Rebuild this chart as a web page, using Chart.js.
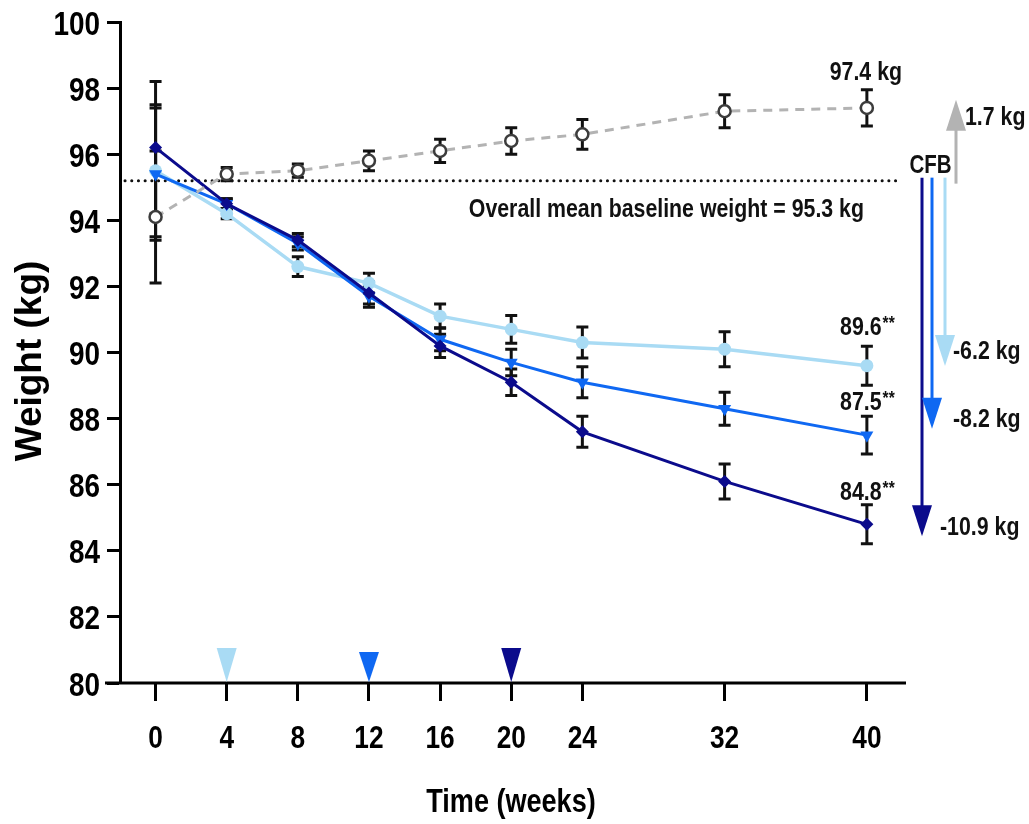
<!DOCTYPE html>
<html>
<head>
<meta charset="utf-8">
<script src="https://cdn.jsdelivr.net/npm/chart.js@4.4.1/dist/chart.umd.min.js"></script>
<style>
  html, body { margin: 0; padding: 0; background: #fff; }
  #wrap { width: 1029px; height: 824px; }
</style>
</head>
<body>
<div id="wrap"><canvas id="weightChart" width="1029" height="824"></canvas></div>
<script>
// weeks on the x axis
const weeks = [0, 4, 8, 12, 16, 20, 24, 32, 40];
const yTicks = [80, 82, 84, 86, 88, 90, 92, 94, 96, 98, 100];

// mean weight (kg) per group
const placebo  = [94.1, 95.4, 95.5, 95.8, 96.1, 96.4, 96.6, 97.3, 97.4];
const doseLow  = [95.5, 94.2, 92.6, 92.1, 91.1, 90.7, 90.3, 90.1, 89.6];
const doseMid  = [95.4, 94.5, 93.3, 91.7, 90.4, 89.7, 89.1, 88.3, 87.5];
const doseHigh = [96.2, 94.5, 93.4, 91.8, 90.2, 89.1, 87.6, 86.1, 84.8];

// standard errors
const placeboSE  = [2.0, 0.2, 0.2, 0.3, 0.35, 0.4, 0.45, 0.5, 0.55];
const doseLowSE  = [2.0, 0.15, 0.3, 0.3, 0.37, 0.42, 0.47, 0.53, 0.59];
const doseMidSE  = [2.0, 0.15, 0.2, 0.33, 0.35, 0.4, 0.47, 0.5, 0.57];
const doseHighSE = [2.0, 0.15, 0.2, 0.33, 0.35, 0.4, 0.47, 0.53, 0.59];

// week each dose group reached its target dose
const doseWeeks = [4, 12, 20];

const baseline = 95.2;
const baselineLabel = 'Overall mean baseline weight = 95.3 kg';
const endLabels = ['97.4 kg', '89.6', '87.5', '84.8'];
const cfbLabels = ['1.7 kg', '-6.2 kg', '-8.2 kg', '-10.9 kg'];

const FONT = "'Liberation Sans', Arial, sans-serif";
const SQUEEZE = 0.82; // Arial Narrow look

const cDark = '#0b0b8c';
const cMid = '#0f68f2';
const cLight = '#a9dbf4';
const cGrey = '#b3b3b3';

const toPts = arr => arr.map((v, i) => ({ x: weeks[i], y: v }));

// bold text squeezed horizontally
function narrow(ctx, txt, x, y, size, align) {
    ctx.save();
    ctx.font = 'bold ' + size + 'px ' + FONT;
    ctx.textAlign = align || 'center';
    ctx.textBaseline = 'alphabetic';
    ctx.translate(x, y);
    ctx.scale(SQUEEZE, 1);
    ctx.fillText(txt, 0, 0);
    ctx.restore();
}
function narrowWidth(ctx, txt, size) {
    ctx.save();
    ctx.font = 'bold ' + size + 'px ' + FONT;
    const w = ctx.measureText(txt).width * SQUEEZE;
    ctx.restore();
    return w;
}

const annot = {
    id: 'annot',
    beforeDatasetsDraw(chart) {
        const ctx = chart.ctx;
        const xs = chart.scales.x, ys = chart.scales.y;
        const area = chart.chartArea;

        // dotted baseline
        ctx.save();
        ctx.strokeStyle = '#111';
        ctx.lineWidth = 3;
        ctx.lineCap = 'round';
        ctx.setLineDash([0.1, 6.6]);
        ctx.beginPath();
        ctx.moveTo(area.left + 5, ys.getPixelForValue(baseline));
        ctx.lineTo(area.right - 8, ys.getPixelForValue(baseline));
        ctx.stroke();
        ctx.restore();

        // error bars
        const groups = [[placebo, placeboSE], [doseHigh, doseHighSE], [doseMid, doseMidSE], [doseLow, doseLowSE]];
        ctx.save();
        ctx.strokeStyle = '#111';
        ctx.lineWidth = 3;
        groups.forEach(([vals, se]) => {
            vals.forEach((v, i) => {
                const x = xs.getPixelForValue(weeks[i]);
                const yt = ys.getPixelForValue(v + se[i]);
                const yb = ys.getPixelForValue(v - se[i]);
                ctx.beginPath();
                ctx.moveTo(x, yt); ctx.lineTo(x, yb);
                ctx.moveTo(x - 6, yt); ctx.lineTo(x + 6, yt);
                ctx.moveTo(x - 6, yb); ctx.lineTo(x + 6, yb);
                ctx.stroke();
            });
        });
        ctx.restore();
    },
    afterDraw(chart) {
        const ctx = chart.ctx;
        const xs = chart.scales.x, ys = chart.scales.y;
        const area = chart.chartArea;

        ctx.save();
        // x axis line, runs a little past the y axis
        ctx.strokeStyle = '#000';
        ctx.lineWidth = 3;
        ctx.beginPath();
        ctx.moveTo(area.left - 15, area.bottom);
        ctx.lineTo(area.right, area.bottom);
        ctx.stroke();

        // tick labels
        ctx.fillStyle = '#000';
        yTicks.forEach(v => narrow(ctx, String(v), 100, ys.getPixelForValue(v) + 12.5, 34, 'right'));
        weeks.forEach(w => narrow(ctx, String(w), xs.getPixelForValue(w), 748, 32, 'center'));

        // axis titles
        narrow(ctx, 'Time (weeks)', (area.left + area.right) / 2 - 2, 812, 33, 'center');
        ctx.save();
        ctx.translate(41, 361);
        ctx.rotate(-Math.PI / 2);
        ctx.font = 'bold 37px ' + FONT;
        ctx.textAlign = 'center';
        ctx.textBaseline = 'alphabetic';
        ctx.fillText('Weight (kg)', 0, 0);
        ctx.restore();

        // dose markers on the x axis
        [cLight, cMid, cDark].forEach((col, i) => {
            const x = xs.getPixelForValue(doseWeeks[i]);
            const top = i === 1 ? area.bottom - 31 : area.bottom - 35;
            ctx.fillStyle = col;
            ctx.beginPath();
            ctx.moveTo(x - 10, top);
            ctx.lineTo(x + 10, top);
            ctx.lineTo(x, area.bottom - 1);
            ctx.closePath();
            ctx.fill();
        });

        // baseline text
        ctx.fillStyle = '#111';
        narrow(ctx, baselineLabel, 864, 217, 26, 'right');

        // end values above week 40
        const x40 = xs.getPixelForValue(40);
        narrow(ctx, endLabels[0], x40 - 1, 80, 26, 'center');
        const endBase = [335, 410, 500];
        [1, 2, 3].forEach((k, i) => {
            const txt = endLabels[k];
            const w1 = narrowWidth(ctx, txt, 26);
            const w2 = narrowWidth(ctx, '**', 19);
            const start = x40 - (w1 + w2) / 2;
            narrow(ctx, txt, start, endBase[i], 26, 'left');
            narrow(ctx, '**', start + w1 + 1, endBase[i] - 6, 19, 'left');
        });

        // change from baseline arrows
        const arrow = (x, y0, y1, col) => {
            const dir = y1 > y0 ? 1 : -1;
            ctx.strokeStyle = col;
            ctx.fillStyle = col;
            ctx.lineWidth = 3;
            ctx.beginPath();
            ctx.moveTo(x, y0);
            ctx.lineTo(x, y1 - dir * 28);
            ctx.stroke();
            ctx.beginPath();
            ctx.moveTo(x - 10, y1 - dir * 31);
            ctx.lineTo(x + 10, y1 - dir * 31);
            ctx.lineTo(x, y1);
            ctx.closePath();
            ctx.fill();
        };
        const yBase = ys.getPixelForValue(baseline);
        arrow(956, yBase + 3, ys.getPixelForValue(97.65), cGrey);
        arrow(922, yBase - 3, ys.getPixelForValue(84.44), cDark);
        arrow(932, yBase - 3, ys.getPixelForValue(87.69), cMid);
        arrow(945, yBase - 3, ys.getPixelForValue(89.59), cLight);

        ctx.fillStyle = '#111';
        narrow(ctx, 'CFB', 930.5, 173, 25, 'center');
        narrow(ctx, cfbLabels[0], 965, 125, 26, 'left');
        narrow(ctx, cfbLabels[1], 953, 359, 26, 'left');
        narrow(ctx, cfbLabels[2], 953, 427, 26, 'left');
        narrow(ctx, cfbLabels[3], 940, 535, 26, 'left');
        ctx.restore();
    }
};

const ctx = document.getElementById('weightChart').getContext('2d');

new Chart(ctx, {
    type: 'line',
    data: {
        datasets: [
            {
                label: 'Placebo',
                data: toPts(placebo),
                borderColor: cGrey,
                borderWidth: 3,
                borderDash: [9, 7],
                pointStyle: 'circle',
                pointRadius: 6,
                pointBorderWidth: 2.5,
                pointBorderColor: '#3c3c3c',
                pointBackgroundColor: '#fff'
            },
            {
                label: 'High dose',
                data: toPts(doseHigh),
                borderColor: cDark,
                borderWidth: 3,
                pointStyle: 'rectRot',
                pointRadius: 6.5,
                pointBorderWidth: 0,
                pointBackgroundColor: cDark
            },
            {
                label: 'Mid dose',
                data: toPts(doseMid),
                borderColor: cMid,
                borderWidth: 3,
                pointStyle: 'triangle',
                pointRotation: 180,
                pointRadius: 7.5,
                pointBorderWidth: 0,
                pointBackgroundColor: cMid
            },
            {
                label: 'Low dose',
                data: toPts(doseLow),
                borderColor: cLight,
                borderWidth: 3.5,
                pointStyle: 'circle',
                pointRadius: 6.5,
                pointBorderWidth: 0,
                pointBackgroundColor: cLight
            }
        ]
    },
    options: {
        responsive: false,
        animation: false,
        layout: { padding: { top: 22, right: 123, left: 0, bottom: 0 } },
        plugins: {
            legend: { display: false },
            tooltip: { enabled: false }
        },
        scales: {
            x: {
                type: 'linear',
                min: -2,
                max: 42.2,
                afterBuildTicks: s => { s.ticks = weeks.map(w => ({ value: w })); },
                afterFit: s => { s.height = 141; },
                border: { display: false },
                grid: { drawOnChartArea: false, drawTicks: true, tickLength: 18, tickWidth: 3, tickColor: '#000' },
                ticks: { display: false },
                title: { display: false }
            },
            y: {
                min: 80,
                max: 100,
                afterBuildTicks: s => { s.ticks = yTicks.map(v => ({ value: v })); },
                afterFit: s => { s.width = 120; },
                border: { display: true, color: '#000', width: 3 },
                grid: { drawOnChartArea: false, drawTicks: true, tickLength: 13, tickWidth: 3, tickColor: '#000' },
                ticks: { display: false },
                title: { display: false }
            }
        }
    },
    plugins: [annot]
});
</script>
</body>
</html>
